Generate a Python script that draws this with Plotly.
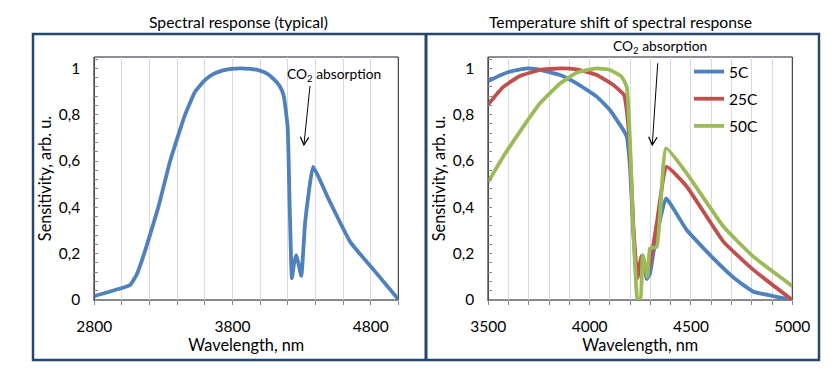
import plotly.graph_objects as go

# ---------------- data ----------------
typ_x = [2800, 2950, 3059, 3107, 3161, 3263, 3349, 3457, 3530, 3602, 3660, 3725, 3790, 3857, 3930,
         4000, 4050, 4097, 4140, 4170, 4199, 4213, 4230, 4246, 4262, 4280, 4298, 4325, 4351, 4383,
         4500, 4653, 4822, 5000]
typ_y = [0.017, 0.043, 0.065, 0.11, 0.2, 0.4, 0.6, 0.8, 0.9, 0.95, 0.975, 0.99, 0.998, 1.0, 0.998,
         0.99, 0.977, 0.955, 0.925, 0.884, 0.747, 0.43, 0.094, 0.16, 0.194, 0.15, 0.104, 0.33, 0.46,
         0.575, 0.43, 0.25, 0.13, 0.003]

x5 = [3500, 3560, 3607, 3689, 3739, 3854, 3936, 4035, 4100, 4166, 4183, 4199, 4216, 4232, 4246,
      4262, 4282, 4298, 4314, 4347, 4377, 4479, 4610, 4725, 4808, 4906, 5000]
y5 = [0.945, 0.97, 0.986, 1.0, 0.997, 0.971, 0.935, 0.878, 0.82, 0.734, 0.705, 0.576, 0.288, 0.1,
      0.15, 0.19, 0.09, 0.115, 0.2, 0.345, 0.439, 0.302, 0.18, 0.086, 0.036, 0.017, 0.0]

x25 = [3500, 3574, 3656, 3755, 3854, 3936, 4035, 4117, 4170, 4183, 4199, 4216, 4236, 4256, 4275,
       4290, 4331, 4380, 4479, 4660, 4808, 5000]
y25 = [0.845, 0.92, 0.967, 0.993, 1.0, 0.996, 0.971, 0.928, 0.885, 0.82, 0.647, 0.317, 0.095, 0.19,
       0.13, 0.13, 0.33, 0.575, 0.49, 0.252, 0.13, 0.0]

x50 = [3500, 3574, 3656, 3755, 3854, 3936, 4035, 4100, 4158, 4183, 4199, 4216, 4229, 4236, 4250,
       4262, 4285, 4298, 4331, 4377, 4479, 4660, 4808, 5000]
y50 = [0.51, 0.619, 0.727, 0.849, 0.935, 0.981, 1.0, 0.993, 0.964, 0.92, 0.69, 0.288, 0.07, 0.0,
       0.0, 0.194, 0.1, 0.223, 0.23, 0.655, 0.547, 0.317, 0.187, 0.06]

series_names = ["5C", "25C", "50C"]
series_colors = ["#4F81BD", "#C0504D", "#9BBB59"]

y_tickvals = [0, 0.2, 0.4, 0.6, 0.8, 1]
y_ticktext = ["0", "0,2", "0,4", "0,6", "0,8", "1"]
left_xticks = [2800, 3800, 4800]
right_xticks = [3500, 4000, 4500, 5000]

titles = ["Spectral response (typical)", "Temperature shift of spectral response"]
x_title = "Wavelength, nm"
y_title = "Sensitivity, arb. u."
co2_text = "CO<sub>2</sub> absorption"

# ---------------- figure ----------------
# the page body has an 8px margin, so the figure is 8px smaller than the window
OFF = 8
W, H = 831 - OFF, 372 - OFF
FONT = "Lato, Carlito, Calibri, sans-serif"
FRAME = "#24466F"
GRID = "#D9D9D9"
AXIS = "#868686"
LW = 3.8


def px_x(p):
    return (p - OFF) / W


def px_y(p):
    return (H - (p - OFF)) / H


fig = go.Figure()
fig.add_trace(go.Scatter(x=typ_x, y=typ_y, mode="lines",
                         line=dict(color="#4F81BD", width=LW, shape="spline", smoothing=0.4),
                         showlegend=False, xaxis="x", yaxis="y"))
for xs, ys, name, col in zip([x5, x25, x50], [y5, y25, y50], series_names, series_colors):
    fig.add_trace(go.Scatter(x=xs, y=ys, mode="lines", name=name,
                             line=dict(color=col, width=LW, shape="spline", smoothing=0.4),
                             xaxis="x2", yaxis="y2", legendgroup=name))

ydom = [px_y(300), px_y(57)]
yax = dict(range=[0, 1.049], tickvals=y_tickvals, ticktext=y_ticktext, showgrid=False,
           showline=True, linecolor=AXIS, linewidth=1, ticks="inside", ticklen=4, tickcolor=AXIS,
           minor=dict(dtick=0.04, tick0=0, ticks="inside", ticklen=4, tickcolor=AXIS, showgrid=False),
           tickfont=dict(size=15.5, color="#000"), ticklabelstandoff=10, zeroline=False,
           automargin=False,
           title=dict(text=y_title, font=dict(size=16.3, color="#000"), standoff=2),
           fixedrange=True)
xax_common = dict(showgrid=True, gridcolor=GRID, gridwidth=1, showline=True, linecolor=AXIS,
                  linewidth=1, ticks="outside", ticklen=4, tickcolor=AXIS, zeroline=False,
                  tickfont=dict(size=15.5, color="#000"), ticklabelstandoff=8, automargin=False,
                  title=dict(text=x_title, font=dict(size=16.3, color="#000"), standoff=1))

fig.update_layout(
    width=W, height=H, margin=dict(l=0, r=0, t=0, b=0, autoexpand=False),
    paper_bgcolor="white", plot_bgcolor="white",
    font=dict(family=FONT, color="#000"),
    xaxis=dict(domain=[px_x(94.3), px_x(398.3)], range=[2800, 5000], tickvals=left_xticks,
               minor=dict(dtick=200, tick0=2800, showgrid=True, gridcolor=GRID, ticks="outside",
                          ticklen=4, tickcolor=AXIS),
               anchor="y", **xax_common),
    yaxis=dict(domain=ydom, anchor="x", **yax),
    xaxis2=dict(domain=[px_x(488.3), px_x(792.3)], range=[3500, 5000], tickvals=right_xticks,
                minor=dict(dtick=100, tick0=3500, showgrid=True, gridcolor=GRID, ticks="outside",
                           ticklen=4, tickcolor=AXIS),
                anchor="y2", **xax_common),
    yaxis2=dict(domain=ydom, anchor="x2", **yax),
    legend=dict(x=px_x(689), y=px_y(55), xanchor="left", yanchor="top",
                font=dict(size=15.5, color="#000"), bgcolor="rgba(0,0,0,0)",
                tracegroupgap=4, itemwidth=30),
)

shapes = []
# outer frame and divider
shapes.append(dict(type="rect", xref="paper", yref="paper", x0=px_x(33), x1=px_x(819),
                   y0=px_y(360), y1=px_y(34), line=dict(color=FRAME, width=2.5), layer="below"))
shapes.append(dict(type="line", xref="paper", yref="paper", x0=px_x(426), x1=px_x(426),
                   y0=px_y(360), y1=px_y(34), line=dict(color=FRAME, width=3), layer="below"))
# plot area borders
for xr, yr in (("x", "y"), ("x2", "y2")):
    shapes.append(dict(type="rect", xref=f"{xr} domain", yref=f"{yr} domain", x0=0, x1=1, y0=0, y1=1,
                       line=dict(color="#1A1A2E", width=1), layer="below"))
# CO2 arrows: shaft + open "V" head (head drawn in pixel units around the tip)
arrows = [("x", "y", 4361, 0.924, 4317, 0.669), ("x2", "y2", 4336, 1.022, 4309, 0.669)]
for xr, yr, xt, yt, xh, yh in arrows:
    shapes.append(dict(type="line", xref=xr, yref=yr, x0=xt, y0=yt, x1=xh, y1=yh,
                       line=dict(color="#000", width=1)))
    shapes.append(dict(type="path", xref=xr, yref=yr, xsizemode="pixel", ysizemode="pixel",
                       xanchor=xh, yanchor=yh, path="M4.8,7.6 L0,0 L-3.6,8.3",
                       line=dict(color="#000", width=1.2)))
fig.update_layout(shapes=shapes)

ann = []
ann.append(dict(text=titles[0], xref="paper", yref="paper", x=px_x(238), y=px_y(22),
                showarrow=False, font=dict(size=15.7, color="#000"), xanchor="center", yanchor="middle"))
ann.append(dict(text=titles[1], xref="paper", yref="paper", x=px_x(620), y=px_y(22),
                showarrow=False, font=dict(size=15.7, color="#000"), xanchor="center", yanchor="middle"))
ann.append(dict(text=co2_text, xref="paper", yref="paper", x=px_x(334), y=px_y(74), showarrow=False,
                font=dict(size=13.8, color="#000"), xanchor="center", yanchor="middle"))
ann.append(dict(text=co2_text, xref="paper", yref="paper", x=px_x(660), y=px_y(47), showarrow=False,
                font=dict(size=13.8, color="#000"), xanchor="center", yanchor="middle"))
fig.update_layout(annotations=ann)

fig.write_html("out.html")
